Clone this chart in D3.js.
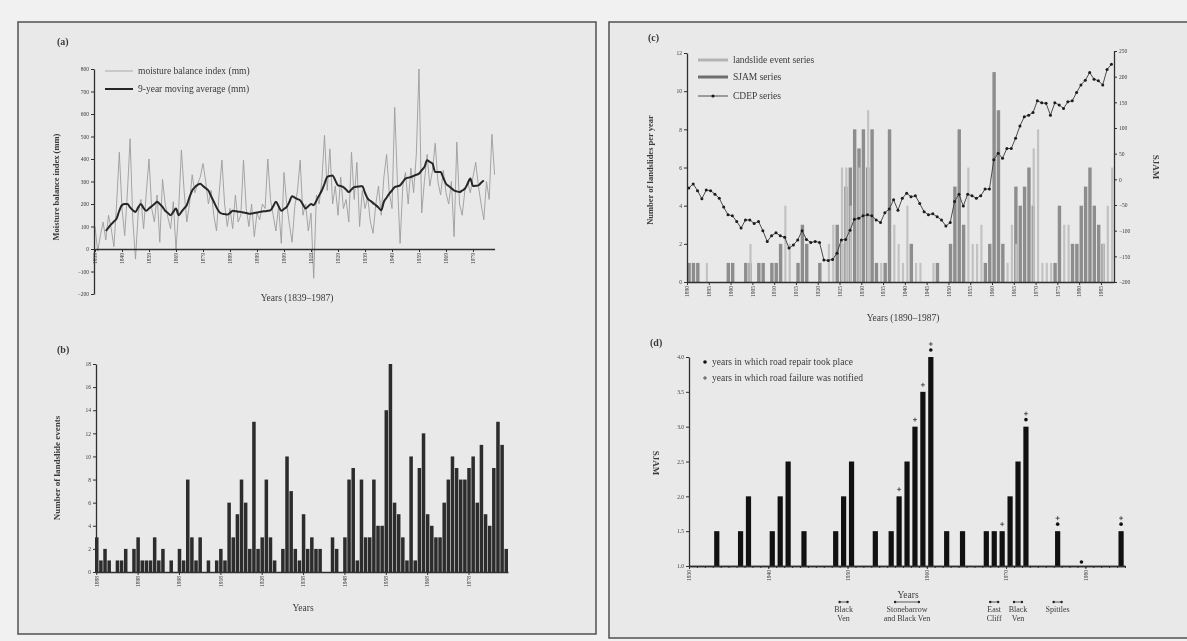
<!DOCTYPE html>
<html>
<head>
<meta charset="utf-8">
<script src="https://cdn.jsdelivr.net/npm/d3@7"></script>
<style>
  body { margin: 0; background: #f2f2f2; }
  svg { display: block; filter: blur(0.3px); }
  text { font-family: "Liberation Serif", "DejaVu Serif", serif; fill: #3a3a3a; }
</style>
</head>
<body>
<div id="chart"></div>
<script>
// ---- (a) moisture balance index, 1839-1987
const moistureStart = 1839;
const moisture = [100, -10, 60, 120, 40, 150, 90, 10, 200, 430,
  180, 60, 250, 490, 130, -45, 160, 220, 90, 250,
  400, 180, 120, 240, 30, 310, 200, 140, 90, 210,
  -5, 180, 440, 260, 120, 200, 330, 250, 290, 320,
  380, 300, 200, 260, 150, 80, 250, 395, 200, 100,
  180, 90, 240, 120, 150, 395, 180, 100, 200, 55,
  160, 130, 200, 180, 400, 220, 150, 80, 190, 25,
  340, 200, 110, 30, 190, 260, 395, 150, 200, 80,
  160, -130, 240, 200, 300, 505, 260, 445, 200, 280,
  150, 320, 180, 220, 120, 430, 220, 385, 100, 260,
  180, 230, 120, 70, 200, 280, 150, 320, 420, 250,
  180, 630, 300, 25, 280, 340, 200, 360, 250, 420,
  800, 160, 300, 420, 280, 350, 470, 300, 240, 350,
  250, 200, 300, 55, 475, 200, 150, 260, 300, 250,
  320, 385, 280, 200, 130, 300, 220, 510, 330];
const maStart = 1843;
const movingAvg = [80, 95, 110, 122, 135, 170, 195, 200, 200, 185,
  172, 165, 185, 200, 182, 170, 180, 190, 200, 210,
  200, 187, 170, 160, 150, 165, 180, 150, 165, 180,
  195, 230, 260, 275, 285, 290, 280, 270, 260, 235,
  210, 185, 165, 157, 155, 153, 160, 170, 168, 166,
  165, 162, 160, 157, 158, 160, 162, 165, 167, 168,
  170, 172, 190, 210, 190, 170, 178, 187, 210, 235,
  228, 222, 216, 198, 180, 190, 200, 195, 215, 238,
  260, 290, 320, 325, 327, 305, 283, 280, 275, 264,
  253, 265, 275, 277, 278, 279, 250, 224, 214, 204,
  195, 184, 172, 210, 228, 246, 260, 275, 279, 283,
  298, 313, 317, 320, 325, 330, 335, 350, 364, 394,
  387, 380, 342, 342, 342, 316, 290, 280, 270, 260,
  256, 253, 260, 268, 290, 313, 280, 281, 283, 294,
  305];
const aYTicks = [-200, -100, 0, 100, 200, 300, 400, 500, 600, 700, 800];
const aXTicks = [1839, 1849, 1859, 1869, 1879, 1889, 1899, 1909, 1919, 1929, 1939, 1949, 1959, 1969, 1979];

// ---- (b) landslide events per year
const bStart = 1888;
const landslideEvents = [3, 1, 2, 1, 0, 1, 1, 2, 0, 2,
  3, 1, 1, 1, 3, 1, 2, 0, 1, 0,
  2, 1, 8, 3, 1, 3, 0, 1, 0, 1,
  2, 1, 6, 3, 5, 8, 6, 2, 13, 2,
  3, 8, 3, 1, 0, 2, 10, 7, 2, 1,
  5, 2, 3, 2, 2, 0, 0, 3, 2, 0,
  3, 8, 9, 1, 8, 3, 3, 8, 4, 4,
  14, 18, 6, 5, 3, 1, 10, 1, 9, 12,
  5, 4, 3, 3, 6, 8, 10, 9, 8, 8,
  9, 10, 6, 11, 5, 4, 9, 13, 11, 2];
const bYTicks = [0, 2, 4, 6, 8, 10, 12, 14, 16, 18];
const bXTicks = [1888, 1898, 1908, 1918, 1928, 1938, 1948, 1958, 1968, 1978];

// ---- (c) landslide / SJAM / CDEP, 1890-1987
const cStart = 1890;
const landslideSeries = [0, 0, 0, 0, 1, 0, 0, 0, 0, 0,
  0, 0, 0, 0, 2, 0, 0, 0, 0, 0,
  0, 0, 4, 2, 0, 0, 0, 0, 0, 0,
  0, 0, 2, 3, 0, 6, 6, 4, 0, 6,
  0, 9, 0, 0, 1, 0, 0, 3, 2, 1,
  4, 0, 1, 1, 0, 0, 1, 0, 0, 0,
  0, 0, 0, 0, 6, 2, 2, 3, 0, 0,
  0, 0, 0, 1, 3, 2, 0, 0, 0, 7,
  8, 1, 1, 1, 0, 0, 3, 3, 0, 0,
  0, 0, 0, 0, 0, 2, 4, 6];
const sjamSeries = [1, 1, 1, 0, 0, 0, 0, 0, 0, 1,
  1, 0, 0, 1, 1, 0, 1, 1, 0, 1,
  1, 2, 0, 0, 0, 1, 3, 2, 0, 0,
  1, 0, 0, 0, 3, 2, 5, 6, 8, 7,
  8, 6, 8, 1, 0, 1, 8, 0, 0, 0,
  0, 2, 0, 0, 0, 0, 0, 1, 0, 0,
  2, 5, 8, 3, 0, 0, 0, 0, 1, 2,
  11, 9, 2, 0, 0, 5, 4, 5, 6, 4,
  0, 0, 0, 0, 1, 4, 0, 0, 2, 2,
  4, 5, 6, 4, 3, 2, 0, 0];
const cdepSeries = [-17, -9, -22, -38, -21, -22, -29, -37, -54, -69,
  -71, -82, -95, -79, -79, -86, -82, -100, -121, -110,
  -104, -110, -113, -134, -128, -118, -100, -117, -123, -121,
  -123, -157, -158, -156, -144, -118, -117, -99, -78, -76,
  -71, -69, -71, -79, -84, -65, -58, -40, -60, -37,
  -27, -34, -32, -47, -63, -69, -67, -73, -79, -91,
  -84, -43, -29, -52, -29, -32, -37, -32, -19, -19,
  38, 51, 41, 60, 60, 80, 104, 122, 125, 130,
  153, 149, 148, 125, 149, 145, 138, 151, 153, 169,
  184, 193, 208, 195, 192, 184, 214, 224];
const cYTicks = [0, 2, 4, 6, 8, 10, 12];
const cY2Ticks = [-200, -150, -100, -50, 0, 50, 100, 150, 200, 250];
const cXTicks = [1890, 1895, 1900, 1905, 1910, 1915, 1920, 1925, 1930, 1935,
  1940, 1945, 1950, 1955, 1960, 1965, 1970, 1975, 1980, 1985];

// ---- (d) SJAM for the coast road
const dYears = [1933, 1936, 1937, 1940, 1941, 1942, 1944, 1948, 1949, 1950, 1953, 1955, 1956, 1957,
  1958, 1959, 1960, 1962, 1964, 1967, 1968, 1969, 1970, 1971, 1972, 1976, 1984];
const dSjam = [1.5, 1.5, 2.0, 1.5, 2.0, 2.5, 1.5, 1.5, 2.0, 2.5, 1.5, 1.5, 2.0, 2.5,
  3.0, 3.5, 4.0, 1.5, 1.5, 1.5, 1.5, 1.5, 2.0, 2.5, 3.0, 1.5, 1.5];
const repairYears = [1960, 1972, 1976, 1979, 1984];
const failureYears = [1956, 1958, 1959, 1960, 1969, 1972, 1976, 1984];
const dYTicks = [1.0, 1.5, 2.0, 2.5, 3.0, 3.5, 4.0];
const dXTicks = [1930, 1940, 1950, 1960, 1970, 1980];
const siteNames = [["Black", "Ven"], ["Stonebarrow", "and Black Ven"], ["East", "Cliff"], ["Black", "Ven"], ["Spittles"]];
const siteFrom = [1949, 1956, 1968, 1971, 1976];
const siteTo = [1950, 1959, 1969, 1972, 1977];

const width = 1187;
const height = 641;

const svg = d3.select('#chart')
  .append('svg')
  .attr('width', width)
  .attr('height', height);

svg.append('rect').attr('width', width).attr('height', height).attr('fill', '#f1f1f1');

// two page frames
svg.append('rect').attr('x', 18).attr('y', 22).attr('width', 578).attr('height', 612)
  .attr('fill', '#e9e9e9').attr('stroke', '#5a5a5a').attr('stroke-width', 1.6);
svg.append('rect').attr('x', 609).attr('y', 22).attr('width', 600).attr('height', 616)
  .attr('fill', '#e9e9e9').attr('stroke', '#5a5a5a').attr('stroke-width', 1.6);

function styleAxis(g, size) {
  g.attr('font-size', size);
  g.select('.domain').attr('stroke', '#2f2f2f').attr('stroke-width', 1.3);
  g.selectAll('.tick line').attr('stroke', '#2f2f2f');
}

function rotateLabels(g) {
  g.selectAll('.tick text')
    .attr('transform', 'rotate(-90)')
    .attr('text-anchor', 'end')
    .attr('x', -4)
    .attr('y', 0)
    .attr('dy', '0.32em');
}

function label(x, y, txt, size, opts = {}) {
  const t = svg.append('text')
    .attr('x', x).attr('y', y)
    .attr('font-size', size)
    .attr('text-anchor', opts.anchor || 'start')
    .text(txt);
  if (opts.rotate) t.attr('transform', `rotate(${opts.rotate},${x},${y})`);
  if (opts.bold) t.attr('font-weight', 'bold');
  return t;
}

// =============== (a)
const xA = d3.scaleLinear().domain([1839, 1987]).range([95, 494.6]);
const yA = d3.scaleLinear().domain([-200, 800]).range([294, 69]);

svg.append('path')
  .datum(moisture)
  .attr('fill', 'none')
  .attr('stroke', '#9c9c9c')
  .attr('stroke-width', 0.9)
  .attr('d', d3.line().x((d, i) => xA(moistureStart + i)).y(d => yA(d)));

svg.append('g')
  .attr('transform', `translate(94,0)`)
  .call(d3.axisLeft(yA).tickValues(aYTicks).tickSize(3).tickSizeOuter(0).tickPadding(2))
  .call(g => styleAxis(g, 5.5));

svg.append('g')
  .attr('transform', `translate(0,${yA(0)})`)
  .call(d3.axisBottom(xA).tickValues(aXTicks).tickSize(3).tickSizeOuter(0).tickFormat(d3.format('d')))
  .call(g => styleAxis(g, 5.5))
  .call(rotateLabels);

svg.append('path')
  .datum(movingAvg)
  .attr('fill', 'none')
  .attr('stroke', '#262626')
  .attr('stroke-width', 2)
  .attr('d', d3.line().x((d, i) => xA(maStart + i)).y(d => yA(d)).curve(d3.curveMonotoneX));

label(57, 45, '(a)', 10, { bold: true });
label(59, 187, 'Moisture balance index (mm)', 8.5, { anchor: 'middle', rotate: -90, bold: true });
label(297, 301, 'Years (1839–1987)', 9.5, { anchor: 'middle' });
svg.append('line').attr('x1', 105).attr('x2', 133).attr('y1', 71).attr('y2', 71)
  .attr('stroke', '#a8a8a8').attr('stroke-width', 1);
label(138, 74, 'moisture balance index (mm)', 9.5);
svg.append('line').attr('x1', 105).attr('x2', 133).attr('y1', 89).attr('y2', 89)
  .attr('stroke', '#262626').attr('stroke-width', 2);
label(138, 92, '9-year moving average (mm)', 9.5);

// =============== (b)
const bYears = landslideEvents.map((d, i) => bStart + i);
const xB = d3.scaleBand().domain(bYears).range([95, 508]).paddingInner(0.15).paddingOuter(0);
const yB = d3.scaleLinear().domain([0, 18]).range([572, 364]);

svg.append('g')
  .attr('fill', '#2c2c2c')
  .selectAll('rect')
  .data(landslideEvents)
  .join('rect')
  .attr('x', (d, i) => xB(bYears[i]))
  .attr('y', d => yB(d))
  .attr('width', xB.bandwidth())
  .attr('height', d => yB(0) - yB(d));

svg.append('g')
  .attr('transform', `translate(96,0)`)
  .call(d3.axisLeft(yB).tickValues(bYTicks).tickSize(3).tickSizeOuter(0).tickPadding(2))
  .call(g => styleAxis(g, 5.5));

svg.append('g')
  .attr('transform', `translate(0,${yB(0)})`)
  .call(d3.axisBottom(xB).tickValues(bXTicks).tickSize(3).tickSizeOuter(0))
  .call(g => styleAxis(g, 5.5))
  .call(rotateLabels);

label(57, 353, '(b)', 10, { bold: true });
label(60, 468, 'Number of landslide events', 9, { anchor: 'middle', rotate: -90, bold: true });
label(303, 611, 'Years', 9.5, { anchor: 'middle' });

// =============== (c)
const cYears = sjamSeries.map((d, i) => cStart + i);
const xC = d3.scaleLinear().domain([1890, 1988]).range([687, 1114]);
const yC = d3.scaleLinear().domain([0, 12]).range([282, 53]);
const yC2 = d3.scaleLinear().domain([-200, 250]).range([282, 51]);

svg.append('g')
  .attr('fill', '#8d8d8d')
  .selectAll('rect')
  .data(sjamSeries)
  .join('rect')
  .attr('x', (d, i) => xC(cYears[i]) + 0.4)
  .attr('y', d => yC(d))
  .attr('width', 3.4)
  .attr('height', d => yC(0) - yC(d));

svg.append('g')
  .attr('fill', '#c2c2c2')
  .selectAll('rect')
  .data(landslideSeries)
  .join('rect')
  .attr('x', (d, i) => xC(cYears[i]) + 1.4)
  .attr('y', d => yC(d))
  .attr('width', 2.2)
  .attr('height', d => yC(0) - yC(d));

svg.append('path')
  .datum(cdepSeries)
  .attr('fill', 'none')
  .attr('stroke', '#3a3a3a')
  .attr('stroke-width', 0.9)
  .attr('d', d3.line().x((d, i) => xC(cYears[i]) + 1.8).y(d => yC2(d)));

svg.append('g')
  .attr('fill', '#1c1c1c')
  .selectAll('circle')
  .data(cdepSeries)
  .join('circle')
  .attr('cx', (d, i) => xC(cYears[i]) + 1.8)
  .attr('cy', d => yC2(d))
  .attr('r', 1.5);

svg.append('g')
  .attr('transform', `translate(687,0)`)
  .call(d3.axisLeft(yC).tickValues(cYTicks).tickSize(3).tickSizeOuter(0).tickPadding(2))
  .call(g => styleAxis(g, 5.5));

svg.append('g')
  .attr('transform', `translate(1114,0)`)
  .call(d3.axisRight(yC2).tickValues(cY2Ticks).tickSize(3).tickSizeOuter(0).tickPadding(2))
  .call(g => styleAxis(g, 5.5));

svg.append('g')
  .attr('transform', `translate(0,${yC(0)})`)
  .call(d3.axisBottom(xC).tickValues(cXTicks).tickSize(3).tickSizeOuter(0).tickFormat(d3.format('d')))
  .call(g => styleAxis(g, 5.5))
  .call(rotateLabels);

label(648, 41, '(c)', 10, { bold: true });
label(653, 170, 'Number of landslides per year', 8.5, { anchor: 'middle', rotate: -90, bold: true });
label(1153, 167, 'SJAM', 9, { anchor: 'middle', rotate: 90, bold: true });
label(903, 321, 'Years (1890–1987)', 9.5, { anchor: 'middle' });

const cLegend = [
  { name: 'landslide event series', color: '#b4b4b4', w: 3 },
  { name: 'SJAM series', color: '#6e6e6e', w: 3 },
  { name: 'CDEP series', color: '#3a3a3a', w: 0.9 }
];
cLegend.forEach((d, i) => {
  const y = [60, 77, 96][i];
  svg.append('line').attr('x1', 698).attr('x2', 728).attr('y1', y).attr('y2', y)
    .attr('stroke', d.color).attr('stroke-width', d.w);
  if (i === 2) svg.append('circle').attr('cx', 713).attr('cy', y).attr('r', 1.6).attr('fill', '#1c1c1c');
  label(733, y + 3, d.name, 9.5);
});

// =============== (d)
const xD = d3.scaleLinear().domain([1930, 1985]).range([689, 1125]);
const yD = d3.scaleLinear().domain([1, 4]).range([566, 357]);

svg.append('g')
  .attr('fill', '#111')
  .selectAll('rect')
  .data(dSjam)
  .join('rect')
  .attr('x', (d, i) => xD(dYears[i]) + 1.4)
  .attr('y', d => yD(d))
  .attr('width', 5.2)
  .attr('height', d => yD(1) - yD(d));

function barTop(year) {
  const i = dYears.indexOf(year);
  return i < 0 ? yD(1) + 3 : yD(dSjam[i]);
}

svg.append('g')
  .attr('fill', '#111')
  .selectAll('circle')
  .data(repairYears)
  .join('circle')
  .attr('cx', d => xD(d) + 4)
  .attr('cy', d => barTop(d) - 7)
  .attr('r', 1.8);

svg.append('g')
  .attr('stroke', '#333')
  .attr('stroke-width', 0.8)
  .selectAll('path')
  .data(failureYears)
  .join('path')
  .attr('d', d => {
    const x = xD(d) + 4;
    const y = barTop(d) - (repairYears.includes(d) ? 13 : 7);
    return `M${x - 2},${y}h4M${x},${y - 2}v4`;
  });

svg.append('g')
  .attr('transform', `translate(0,${yD(1)})`)
  .call(d3.axisBottom(xD).tickValues(d3.range(1930, 1986)).tickSize(2).tickSizeOuter(0).tickFormat(''))
  .call(g => styleAxis(g, 5.5));

svg.append('g')
  .attr('transform', `translate(0,${yD(1)})`)
  .call(d3.axisBottom(xD).tickValues(dXTicks).tickSize(3).tickSizeOuter(0).tickFormat(d3.format('d')))
  .call(g => styleAxis(g, 5.5))
  .call(rotateLabels);

svg.append('g')
  .attr('transform', `translate(689,0)`)
  .call(d3.axisLeft(yD).tickValues(dYTicks).tickSize(3).tickSizeOuter(0).tickPadding(2).tickFormat(d3.format('.1f')))
  .call(g => styleAxis(g, 5.5));

label(650, 346, '(d)', 10, { bold: true });
label(653, 463, 'SJAM', 9, { anchor: 'middle', rotate: 90, bold: true });
label(908, 598, 'Years', 9.5, { anchor: 'middle' });

svg.append('circle').attr('cx', 705).attr('cy', 362).attr('r', 1.8).attr('fill', '#111');
label(712, 365, 'years in which road repair took place', 9.5);
svg.append('path').attr('d', 'M703,378h4M705,376v4').attr('stroke', '#333').attr('stroke-width', 0.8);
label(712, 381, 'years in which road failure was notified', 9.5);

siteNames.forEach((lines, i) => {
  const x1 = xD(siteFrom[i]);
  const x2 = xD(siteTo[i]);
  const cx = (x1 + x2) / 2;
  svg.append('line').attr('x1', x1).attr('x2', x2).attr('y1', 602).attr('y2', 602)
    .attr('stroke', '#333').attr('stroke-width', 0.8);
  svg.append('circle').attr('cx', x1).attr('cy', 602).attr('r', 1.2).attr('fill', '#222');
  svg.append('circle').attr('cx', x2).attr('cy', 602).attr('r', 1.2).attr('fill', '#222');
  lines.forEach((t, j) => label(cx, 612 + j * 9, t, 8, { anchor: 'middle' }));
});
</script>
</body>
</html>
